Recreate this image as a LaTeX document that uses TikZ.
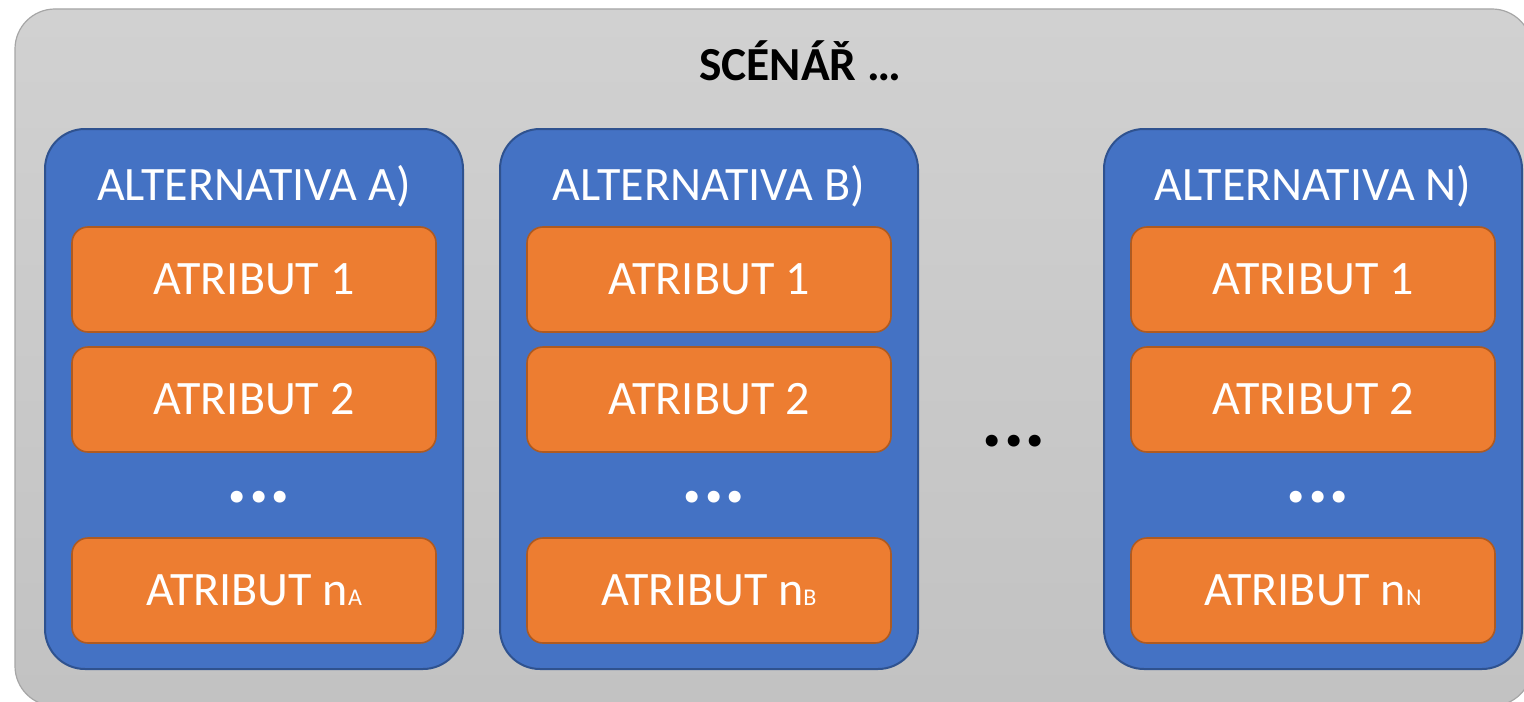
\documentclass[tikz,border=0pt]{standalone}
\usepackage{fontspec}
\setmainfont{Carlito}
\usepackage{xcolor}
\usepackage{tikz}

\definecolor{altblue}{HTML}{4472C4}
\definecolor{altedge}{HTML}{2F528F}
\definecolor{atrorange}{HTML}{ED7D31}
\definecolor{atredge}{HTML}{AE5A21}

\begin{document}
\begin{tikzpicture}[x=0.5pt, y=-0.5pt,
		scenbox/.style={draw=black!35, line width=0.6pt, top color=black!18, bottom color=black!24, rounded corners=20pt, minimum width=758.5pt, minimum height=348.5pt},
		altbox/.style={draw=altedge, line width=1pt, fill=altblue, rounded corners=20pt, minimum width=209pt, minimum height=270pt},
		atrbox/.style={draw=atredge, line width=0.8pt, fill=atrorange, rounded corners=8pt, minimum width=182pt, minimum height=52.5pt, text=white, font=\fontsize{24}{29}\selectfont},
		alttitle/.style={text=white, anchor=base, font=\fontsize{24}{29}\selectfont},
		bigdots/.style={inner sep=0pt, font=\fontsize{40}{40}\selectfont\bfseries}]
			\useasboundingbox (0,0) rectangle (1524,701);
			\fill[white] (0,0) rectangle (1524,701);
			\node[scenbox] (scen) at (773.5,357.5) {};
			\node[anchor=base, font=\fontsize{23.7}{28}\selectfont\bfseries] (scentitle) at (800,81) {SCÉNÁŘ …};
			\foreach \c/\x in {A/254, B/709, N/1313} {
				\node[altbox] (alt\c) at (\x,399) {};
				\node[alttitle] (title\c) at (\x,200) {ALTERNATIVA \c)};
				\node[atrbox] (atr\c1) at (\x,279.5) {ATRIBUT 1};
				\node[atrbox] (atr\c2) at (\x,399.5) {ATRIBUT 2};
				\node[bigdots, text=white] (dots\c) at (\x+5,497) {...};
				\node[atrbox] (atr\c n) at (\x,590.5) {ATRIBUT n{\fontsize{12}{14}\selectfont\c}};
			}
			\node[bigdots] (middots) at (1014,441) {...};
		\end{tikzpicture}
\end{document}
